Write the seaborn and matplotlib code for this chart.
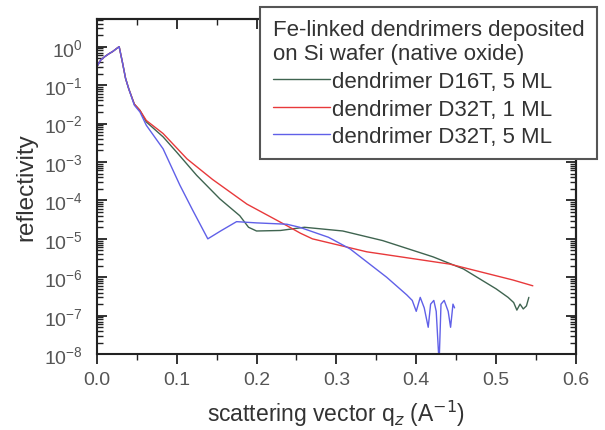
import numpy as np
import pandas as pd
import matplotlib
matplotlib.use("Agg")
import matplotlib.pyplot as plt
import matplotlib.ticker as mticker
from matplotlib.lines import Line2D
import seaborn as sns

# ------------- Data -------------

q_d16t_5 = [0.0, 0.005, 0.01, 0.015, 0.02, 0.025, 0.028, 0.032, 0.036, 0.04, 0.047, 0.054, 0.062,
            0.083, 0.1, 0.125, 0.154, 0.179, 0.19, 0.2, 0.23, 0.26, 0.308, 0.358, 0.421, 0.459,
            0.5, 0.515, 0.522, 0.526, 0.53, 0.534, 0.538, 0.541]
r_d16t_5 = [0.3, 0.45, 0.55, 0.65, 0.75, 0.9, 1.0, 0.4, 0.15, 0.08, 0.032, 0.022, 0.011,
            4.5e-3, 1.8e-3, 4.5e-4, 1.1e-4, 4.0e-5, 2.0e-5, 1.6e-5, 1.65e-5, 2.0e-5, 1.6e-5, 9.0e-6, 3.4e-6, 1.65e-6,
            5.0e-7, 3.0e-7, 2.2e-7, 1.4e-7, 2.0e-7, 1.5e-7, 1.8e-7, 3.0e-7]

q_d32t_1 = [0.0, 0.005, 0.01, 0.015, 0.02, 0.025, 0.028, 0.032, 0.036, 0.04, 0.047, 0.054, 0.062,
            0.083, 0.113, 0.145, 0.188, 0.238, 0.255, 0.27, 0.338, 0.442, 0.521, 0.546]
r_d32t_1 = [0.3, 0.45, 0.55, 0.65, 0.75, 0.9, 1.0, 0.4, 0.15, 0.08, 0.032, 0.022, 0.012,
            5.5e-3, 1.2e-3, 3.5e-4, 8.0e-5, 2.2e-5, 1.4e-5, 1.0e-5, 4.6e-6, 2.2e-6, 8.5e-7, 6.0e-7]

q_d32t_5 = [0.0, 0.005, 0.01, 0.015, 0.02, 0.025, 0.028, 0.032, 0.036, 0.04, 0.047, 0.054, 0.062,
            0.083, 0.104, 0.12, 0.139, 0.155, 0.175, 0.2, 0.238, 0.254, 0.29, 0.317, 0.363, 0.388,
            0.395, 0.4, 0.405, 0.41, 0.415, 0.418, 0.422, 0.425, 0.428, 0.429, 0.431, 0.435, 0.44,
            0.443, 0.446, 0.448]
r_d32t_5 = [0.3, 0.45, 0.55, 0.65, 0.75, 0.9, 1.0, 0.4, 0.15, 0.08, 0.03, 0.02, 0.009,
            2.2e-3, 2.5e-4, 5.6e-5, 1.0e-5, 1.6e-5, 2.8e-5, 2.6e-5, 2.4e-5, 2.0e-5, 1.1e-5, 5.5e-6, 1.0e-6, 3.5e-7,
            2.5e-7, 1.3e-7, 3.0e-7, 1.6e-7, 5.0e-8, 2.0e-7, 2.5e-7, 1.3e-7, 1.0e-8, 1.0e-8, 2.0e-7, 2.5e-7, 1.3e-7,
            5.0e-8, 2.0e-7, 1.6e-7]

labels = ["dendrimer D16T, 5 ML", "dendrimer D32T, 1 ML", "dendrimer D32T, 5 ML"]
colors = ["#3f6450", "#e8393b", "#6060e8"]
legend_title = "Fe-linked dendrimers deposited\non Si wafer (native oxide)"

df = pd.concat([
    pd.DataFrame({"q": q_d16t_5, "R": r_d16t_5, "sample": labels[0]}),
    pd.DataFrame({"q": q_d32t_1, "R": r_d32t_1, "sample": labels[1]}),
    pd.DataFrame({"q": q_d32t_5, "R": r_d32t_5, "sample": labels[2]}),
])

# ------------- Plot -------------

sns.set_theme(style="ticks")
plt.rcParams['font.family'] = ['Liberation Sans', 'DejaVu Sans']

fig = plt.figure(figsize=(6.05, 4.31), dpi=100)
ax = fig.add_axes([0.160, 0.176, 0.792, 0.778])

sns.lineplot(data=df, x="q", y="R", hue="sample", palette=dict(zip(labels, colors)),
             estimator=None, sort=False, linewidth=1.0, ax=ax, legend=False)

ax.set_yscale("log")
ax.set_xlim(0, 0.6)
ax.set_ylim(1e-8, 5.3)
ax.set_yticks([10.0 ** -k for k in range(0, 9)])
ax.set_xticks(np.arange(0, 0.61, 0.1))
ax.set_xticks(np.arange(0.05, 0.6, 0.1), minor=True)
ax.xaxis.set_major_formatter(mticker.FormatStrFormatter('%.1f'))
ax.yaxis.set_minor_locator(mticker.LogLocator(base=10, subs=np.arange(2, 10), numticks=20))
ax.yaxis.set_minor_formatter(mticker.NullFormatter())

for s in ax.spines.values():
    s.set_linewidth(1.5)
    s.set_color("#222222")

# bottom ticks point out, the other three sides point in
ax.tick_params(axis='x', which='both', direction='out', labelsize=14, colors="#222222",
               labelcolor="#555555", pad=5)
ax.tick_params(axis='y', which='both', direction='in', labelsize=14, colors="#222222",
               labelcolor="#555555", pad=10)
ax.tick_params(which='major', length=7, width=1.3)
ax.tick_params(which='minor', length=4, width=1.0)

top = ax.secondary_xaxis('top')
top.set_xticks(np.arange(0, 0.61, 0.1))
top.set_xticks(np.arange(0.05, 0.6, 0.1), minor=True)
top.tick_params(which='both', direction='in', labeltop=False, colors="#222222")
top.tick_params(which='major', length=7, width=1.3)
top.tick_params(which='minor', length=4, width=1.0)

right = ax.secondary_yaxis('right')
right.set_yticks([10.0 ** -k for k in range(0, 9)])
right.yaxis.set_minor_locator(mticker.LogLocator(base=10, subs=np.arange(2, 10), numticks=20))
right.tick_params(which='both', direction='in', labelright=False, colors="#222222")
right.tick_params(which='major', length=7, width=1.3)
right.tick_params(which='minor', length=4, width=1.0)
for sec in (top, right):
    for s in sec.spines.values():
        s.set_linewidth(1.5)
        s.set_color("#222222")

ax.set_xlabel(r"scattering vector q$_z$ (A$^{-1}$)", fontsize=16.5, color="#333333", labelpad=7)
ax.set_ylabel("reflectivity", fontsize=17.5, color="#333333", labelpad=5)

handles = [Line2D([], [], color=c, lw=1.0) for c in colors]
leg = fig.legend(handles, labels, loc="upper right", bbox_to_anchor=(0.986, 0.982),
                 title=legend_title, fontsize=16, title_fontsize=16, frameon=True, fancybox=False,
                 handlelength=2.6, handletextpad=0.05, borderaxespad=0, labelspacing=0.3,
                 borderpad=0.55)
leg._legend_box.align = "left"
leg.get_frame().set_edgecolor("#555555")
leg.get_frame().set_linewidth(1.5)
leg.get_frame().set_alpha(1)
for t in leg.get_texts():
    t.set_color("#333333")
leg.get_title().set_color("#333333")

fig.savefig("out.png", dpi=100)
